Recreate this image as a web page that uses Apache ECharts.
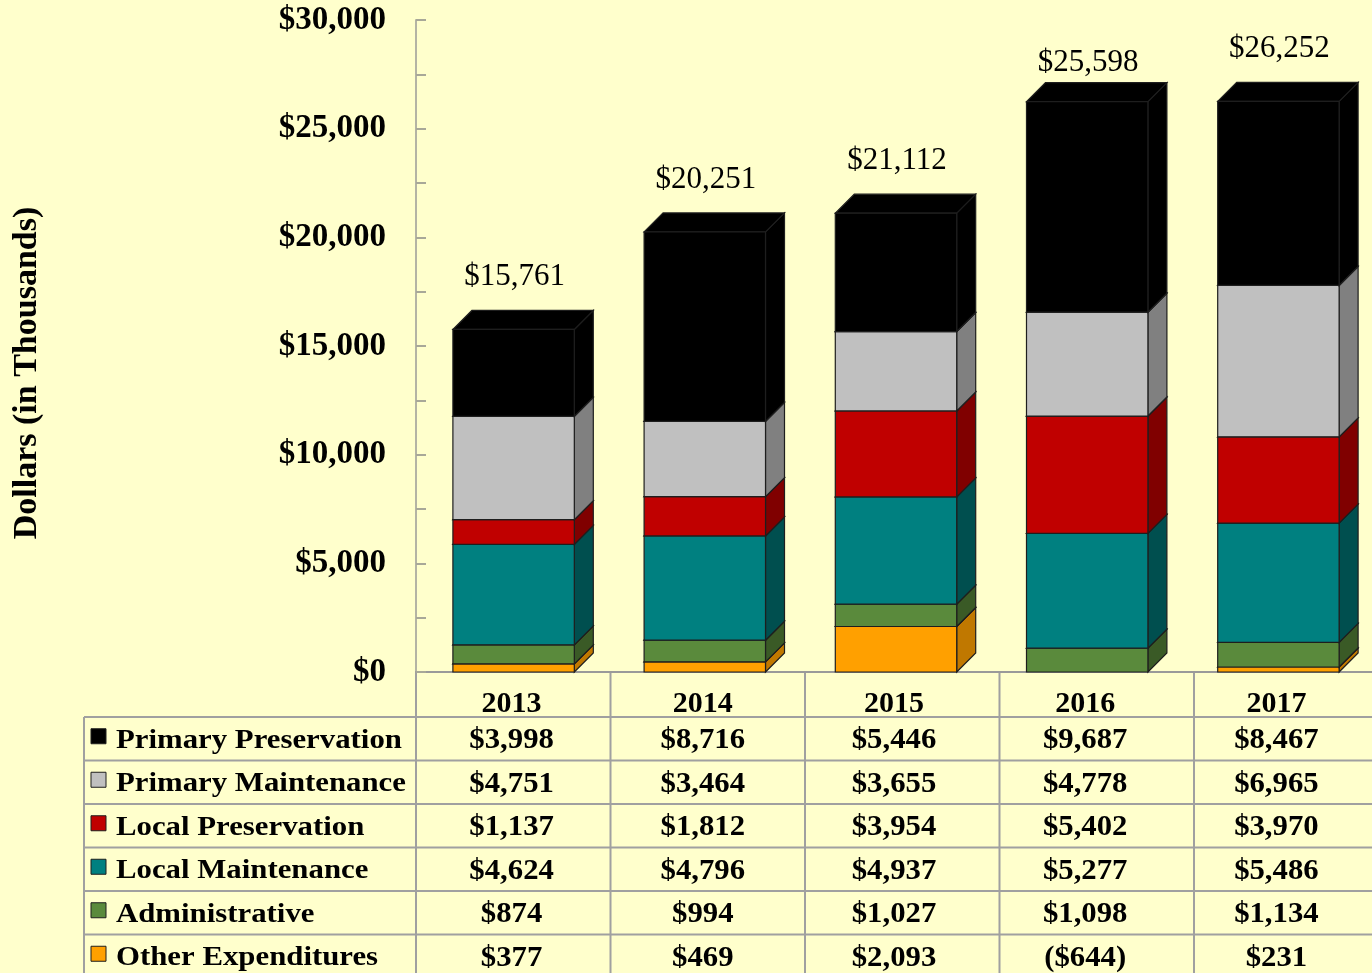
<!doctype html>
<html>
<head>
    <meta charset="utf-8">
    <title>Expenditures 2013-2017</title>
    <style>
        html, body {
            margin: 0;
            padding: 0;
            background: #FFFFCC;
        }

        #chart {
            width: 1372px;
            height: 973px;
        }
    </style>
</head>
<body>
    <div id="chart"></div>
    <script src="https://cdn.jsdelivr.net/npm/echarts@6/dist/echarts.min.js"></script>
    <script>
        var years = ['2013', '2014', '2015', '2016', '2017'];
        var seriesNames = ['Primary Preservation', 'Primary Maintenance', 'Local Preservation',
            'Local Maintenance', 'Administrative', 'Other Expenditures'];
        var primaryPreservation = [3998, 8716, 5446, 9687, 8467];
        var primaryMaintenance = [4751, 3464, 3655, 4778, 6965];
        var localPreservation = [1137, 1812, 3954, 5402, 3970];
        var localMaintenance = [4624, 4796, 4937, 5277, 5486];
        var administrative = [874, 994, 1027, 1098, 1134];
        var otherExpenditures = [377, 469, 2093, -644, 231];
        var totals = [15761, 20251, 21112, 25598, 26252];

        var values = [primaryPreservation, primaryMaintenance, localPreservation,
            localMaintenance, administrative, otherExpenditures];
        var frontColors = ['#000000', '#C0C0C0', '#C00000', '#008080', '#5A8A3C', '#FFA000'];
        var sideColors = ['#000000', '#808080', '#800000', '#004F4F', '#3A5A26', '#C07800'];
        var topColors = ['#000000', '#D8D8D8', '#D00000', '#009090', '#6A9A4A', '#FFB030'];

        var serif = "'Liberation Serif', 'Times New Roman', serif";
        var DEPTH = 19;

        var fmtMoney = function (v) {
            var s = '$' + Math.abs(v).toLocaleString('en-US');
            return v < 0 ? '(' + s + ')' : s;
        };

        // stack from the bottom (Other) up to Primary Preservation, positives only
        var bases = years.map(function () { return 0; });
        var stacked = [];
        for (var s = values.length - 1; s >= 0; s--) {
            var rows = [];
            for (var i = 0; i < years.length; i++) {
                var v = values[s][i];
                if (v > 0) {
                    rows.push([i, bases[i], bases[i] + v]);
                    bases[i] += v;
                } else {
                    rows.push([i, bases[i], bases[i]]);
                }
            }
            stacked[s] = rows;
        }

        var makeRenderer = function (k) {
            return function (params, api) {
                var lo = api.value(1), hi = api.value(2);
                if (hi <= lo) {
                    return null;
                }
                var p0 = api.coord([api.value(0), lo]);
                var p1 = api.coord([api.value(0), hi]);
                var w = api.size([1, 0])[0] * 0.635;
                var cx = p0[0] + 2;
                var L = cx - w / 2, R = cx + w / 2, yb = p0[1], yt = p1[1];
                var edge = { stroke: '#1E1E1E', lineWidth: 1.2 };
                return {
                    type: 'group',
                    children: [
                        {
                            type: 'polygon',
                            shape: { points: [[R, yb], [R + DEPTH, yb - DEPTH], [R + DEPTH, yt - DEPTH], [R, yt]] },
                            style: Object.assign({ fill: sideColors[k] }, edge)
                        },
                        {
                            type: 'polygon',
                            shape: { points: [[L, yt], [L + DEPTH, yt - DEPTH], [R + DEPTH, yt - DEPTH], [R, yt]] },
                            style: Object.assign({ fill: topColors[k] }, edge)
                        },
                        {
                            type: 'rect',
                            shape: { x: L, y: yt, width: w, height: yb - yt },
                            style: Object.assign({ fill: frontColors[k] }, edge)
                        }
                    ]
                };
            };
        };

        var series = [];
        for (var s2 = values.length - 1; s2 >= 0; s2--) {
            series.push({
                name: seriesNames[s2],
                type: 'custom',
                renderItem: makeRenderer(s2),
                encode: { x: 0, y: [1, 2] },
                data: stacked[s2],
                z: 2 + (values.length - s2)
            });
        }

        series.push({
            name: 'Total',
            type: 'scatter',
            symbolSize: 0,
            data: totals.map(function (t, i) { return [i, t]; }),
            z: 20,
            itemStyle: { opacity: 1 },
            label: {
                show: true,
                position: 'top',
                distance: 37,
                offset: [3, 0],
                formatter: function (p) { return fmtMoney(p.value[1]); },
                fontFamily: serif,
                fontSize: 31,
                color: '#000000',
                opacity: 1
            }
        });

        var gridLeft = 416, gridTop = 20, gridBottomY = 672, band = 194.5;

        var myChart = echarts.init(document.getElementById('chart'));
        var option = {
            backgroundColor: '#FFFFCC',
            animation: false,
            grid: {
                left: gridLeft,
                top: gridTop,
                width: band * years.length,
                height: gridBottomY - gridTop
            },
            xAxis: {
                type: 'category',
                data: years,
                axisLine: { lineStyle: { color: '#9A9A9A', width: 2 } },
                axisTick: { show: false },
                axisLabel: {
                    margin: 17,
                    fontFamily: serif,
                    fontWeight: 'bold',
                    fontSize: 30,
                    color: '#000'
                }
            },
            yAxis: {
                type: 'value',
                min: 0,
                max: 30000,
                interval: 2500,
                axisLine: { show: true, lineStyle: { color: '#B4B4A4', width: 2 } },
                axisTick: { show: true, inside: true, length: 10, lineStyle: { color: '#A8A898', width: 2 } },
                splitLine: { show: false },
                axisLabel: {
                    margin: 30,
                    fontFamily: serif,
                    fontWeight: 'bold',
                    fontSize: 33,
                    color: '#000',
                    formatter: function (v) {
                        return v % 5000 === 0 ? fmtMoney(v) : '';
                    }
                }
            },
            series: series
        };
        myChart.setOption(option);

        // axis title and the data table under the chart
        var rowTop = 717, rowH = 43.5, tableLeft = 84, lineColor = '#A0A0A0';
        var graphics = [{
            type: 'text',
            x: 27,
            y: 373,
            rotation: Math.PI / 2,
            style: {
                text: 'Dollars (in Thousands)',
                font: 'bold 34px ' + serif,
                fill: '#000',
                textAlign: 'center',
                textVerticalAlign: 'middle'
            }
        }];
        var colX = years.map(function (y, i) {
            return myChart.convertToPixel({ xAxisIndex: 0 }, i);
        });
        for (var c = 0; c <= years.length; c++) {
            var x = gridLeft + c * band;
            graphics.push({
                type: 'line',
                shape: { x1: x, y1: gridBottomY, x2: x, y2: 973 },
                style: { stroke: lineColor, lineWidth: 2 }
            });
        }
        graphics.push({
            type: 'line',
            shape: { x1: tableLeft, y1: rowTop, x2: tableLeft, y2: 973 },
            style: { stroke: lineColor, lineWidth: 2 }
        });
        for (var r = 0; r < seriesNames.length; r++) {
            var y0 = rowTop + r * rowH;
            var cy = y0 + rowH / 2 + 2;
            graphics.push({
                type: 'line',
                shape: { x1: tableLeft, y1: y0, x2: gridLeft + band * years.length, y2: y0 },
                style: { stroke: lineColor, lineWidth: 2 }
            });
            graphics.push({
                type: 'rect',
                shape: { x: 91, y: cy - 12, width: 15, height: 15 },
                style: { fill: frontColors[r], stroke: '#1E1E1E', lineWidth: 1 }
            });
            graphics.push({
                type: 'text',
                x: 116,
                y: cy,
                scaleX: 1.1,
                style: {
                    text: seriesNames[r],
                    font: 'bold 28px ' + serif,
                    fill: '#000',
                    textAlign: 'left',
                    textVerticalAlign: 'middle'
                }
            });
            for (var k = 0; k < years.length; k++) {
                graphics.push({
                    type: 'text',
                    x: colX[k],
                    y: cy,
                    scaleX: 1.06,
                    style: {
                        text: fmtMoney(values[r][k]),
                        font: 'bold 29px ' + serif,
                        fill: '#000',
                        textAlign: 'center',
                        textVerticalAlign: 'middle'
                    }
                });
            }
        }
        myChart.setOption({ graphic: { elements: graphics } });
    </script>
</body>
</html>
